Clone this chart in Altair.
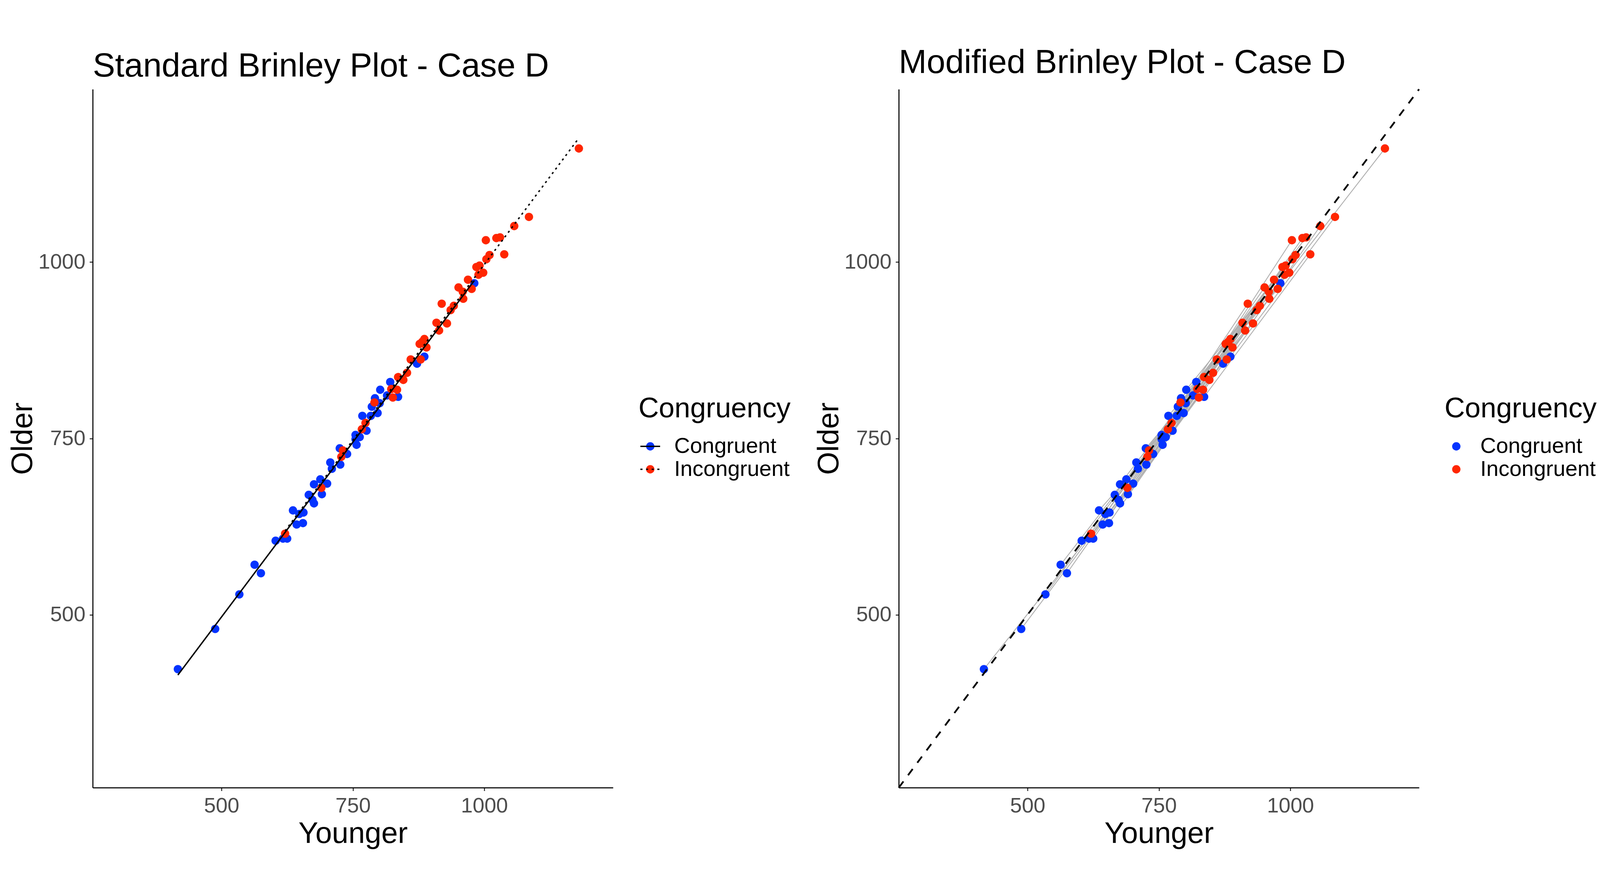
import altair as alt
import pandas as pd

# ---- data (ms) ----
cong_younger = [417, 488, 534, 563, 575, 603, 617, 625, 636, 643, 648, 655, 656, 666, 673,
                676, 676, 688, 691, 701, 707, 710, 725, 726, 739, 755, 755, 757, 763, 768,
                776, 784, 786, 792, 797, 801, 802, 815, 821, 836, 872, 886, 981]
cong_older = [423, 480, 529, 571, 559, 605, 608, 608, 648, 628, 643, 630, 645, 670, 663,
              658, 685, 692, 671, 686, 716, 707, 736, 713, 728, 755, 749, 741, 752, 782,
              761, 782, 795, 807, 786, 800, 819, 811, 830, 809, 856, 866, 970]
incong_younger = [621, 690, 728, 731, 767, 774, 791, 823, 826, 834, 836, 846, 853, 860, 877,
                  879, 882, 886, 890, 909, 914, 919, 929, 936, 942, 951, 959, 960, 969, 976,
                  985, 989, 991, 998, 1004, 1003, 1010, 1023, 1030, 1038, 1057, 1085, 1180]
incong_older = [615, 680, 724, 733, 763, 772, 801, 820, 808, 819, 837, 833, 843, 862, 884,
                862, 887, 891, 879, 914, 903, 941, 913, 932, 938, 964, 958, 948, 975, 962,
                993, 982, 995, 985, 1004, 1031, 1010, 1034, 1035, 1011, 1051, 1064, 1161]

levels = ["Congruent", "Incongruent"]
colors = ["#0433FF", "#FF2600"]
axis_limits = [255, 1245]
tick_values = [500, 750, 1000]

rows = []
for i, (x, y) in enumerate(zip(cong_younger, cong_older)):
    rows.append({"Pair": i, "Congruency": "Congruent", "Younger": x, "Older": y})
for i, (x, y) in enumerate(zip(incong_younger, incong_older)):
    rows.append({"Pair": i, "Congruency": "Incongruent", "Younger": x, "Older": y})
df = pd.DataFrame(rows)
diag = pd.DataFrame({"Younger": axis_limits, "Older": axis_limits})

FONT = "Liberation Sans"
W, H = 1475, 1981

def xenc():
    return alt.X("Younger:Q",
                 scale=alt.Scale(domain=axis_limits, nice=False, zero=False),
                 axis=alt.Axis(title="Younger", values=tick_values, format="d",
                               labelPadding=14, titlePadding=8))

def yenc():
    return alt.Y("Older:Q",
                 scale=alt.Scale(domain=axis_limits, nice=False, zero=False),
                 axis=alt.Axis(title="Older", values=tick_values, format="d",
                               labelPadding=12, titlePadding=0))

legend_common = dict(orient="none", legendX=1547, legendY=868, padding=0,
                     titleFontSize=80, titleFont=FONT, titleFontWeight="normal",
                     titleColor="black", titlePadding=34, titleLimit=2000,
                     labelFontSize=62, labelFont=FONT, labelColor="black",
                     labelLimit=2000, rowPadding=3, symbolOffset=2.5, labelOffset=37)

color_scale = alt.Scale(domain=levels, range=colors)

def title(text):
    return alt.TitleParams(text, anchor="start", frame="group", fontSize=95, font=FONT,
                           fontWeight="normal", color="black", offset=16)

# ---- left: standard Brinley plot ----
pts_left = alt.Chart(df).mark_circle(size=560, opacity=1).encode(
    x=xenc(), y=yenc(),
    color=alt.Color("Congruency:N", scale=color_scale,
                    legend=alt.Legend(title="Congruency", symbolType="circle",
                                      symbolSize=560, symbolStrokeWidth=0,
                                      symbolOpacity=1, **legend_common)))

fit_lines = alt.Chart(df).transform_regression(
    "Younger", "Older", groupby=["Congruency"]
).transform_calculate(Linetype="datum.Congruency").mark_line(
    color="black", strokeWidth=4
).encode(
    x=xenc(), y=yenc(),
    strokeDash=alt.StrokeDash("Linetype:N",
                              scale=alt.Scale(range=[[1, 0], [6, 10]]),
                              legend=alt.Legend(title="Congruency", symbolType="stroke",
                                                symbolSize=3136, symbolStrokeColor="black",
                                                symbolStrokeWidth=4,
                                                **{**legend_common,
                                                   "titleColor": "transparent",
                                                   "labelColor": "transparent"})))

left = alt.layer(pts_left, fit_lines).properties(
    width=W, height=H, title=title("Standard Brinley Plot - Case D"))

# ---- right: modified Brinley plot ----
pair_lines = alt.Chart(df).mark_line(color="#B0B0B0", strokeWidth=2.5).encode(
    x=xenc(), y=yenc(), detail="Pair:N")

pts_right = alt.Chart(df).mark_circle(size=560, opacity=1).encode(
    x=xenc(), y=yenc(),
    color=alt.Color("Congruency:N", scale=color_scale,
                    legend=alt.Legend(title="Congruency", symbolType="circle",
                                      symbolSize=560, symbolStrokeWidth=0,
                                      symbolOpacity=1, **legend_common)))

identity = alt.Chart(diag).mark_line(color="black", strokeWidth=5,
                                     strokeDash=[22, 22]).encode(x=xenc(), y=yenc())

right = alt.layer(pair_lines, pts_right, identity).properties(
    width=W, height=H, title=title("Modified Brinley Plot - Case D"))

chart = alt.hconcat(left, right, spacing=66).resolve_scale(
    color="independent", strokeDash="independent"
).resolve_legend(
    color="independent", strokeDash="independent"
).properties(
    padding={"left": 14, "top": 0, "right": 0, "bottom": 0}, background="white"
).configure_view(
    strokeWidth=0
).configure_axis(
    grid=False, domainColor="black", domainWidth=3, tickColor="#333333", tickWidth=3,
    tickSize=9, labelFontSize=60, labelFont=FONT, labelColor="#4D4D4D",
    titleFontSize=84, titleFont=FONT, titleFontWeight="normal", titleColor="black"
)

chart.save("out.html", embed_options={"renderer": "svg", "actions": False})
